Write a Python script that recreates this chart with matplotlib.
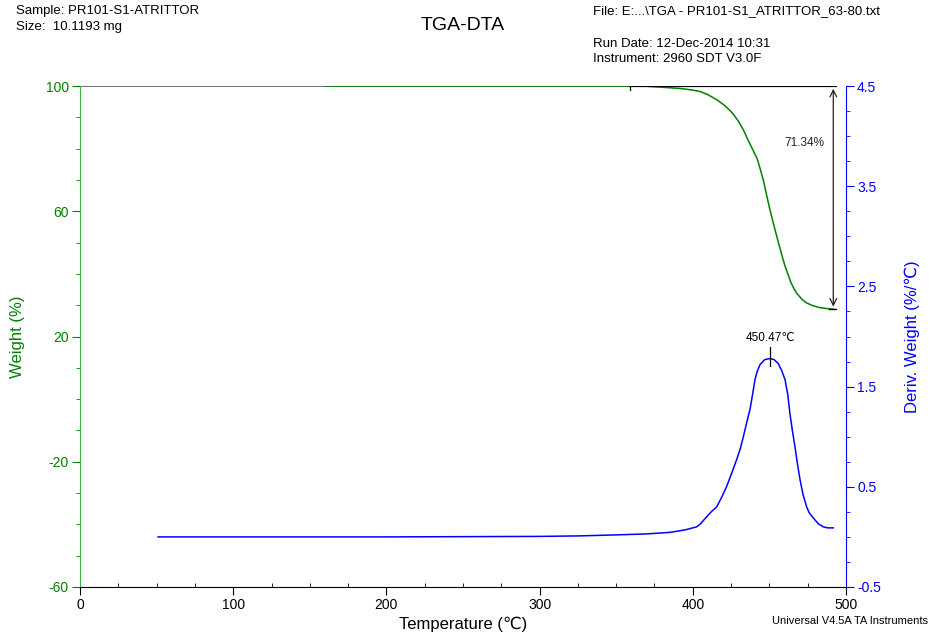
import matplotlib
matplotlib.use('Agg')
import matplotlib.pyplot as plt
from matplotlib.ticker import FixedLocator, MultipleLocator

plt.rcParams['font.family'] = ['Liberation Sans', 'DejaVu Sans']
plt.rcParams['axes.unicode_minus'] = False

# weight curve (%)
temp_w = [160, 250, 340, 367, 380, 392, 400, 405, 410, 416, 421, 426, 430, 433, 436, 439, 442,
          444, 446, 448, 450, 452, 454, 456, 458, 460, 462, 464, 466, 468, 471, 474, 478, 483, 488, 492]
weight = [100, 100, 100, 100, 99.6, 99.2, 98.7, 98.2, 97.2, 95.5, 93.7, 91.3, 88.6, 86.0, 82.8, 79.8, 76.8,
          73.5, 70.0, 65.6, 61.2, 57.3, 53.5, 49.8, 46.2, 42.8, 40.0, 37.3, 35.3, 33.7, 32.0, 30.8, 29.9, 29.2, 28.9, 28.7]

# derivative weight (%/C)
temp_d = [51, 200, 300, 326, 350, 370, 385, 395, 402.5, 405, 409, 412, 415.6, 419, 422, 425, 428.6, 431,
          433, 435, 437.3, 439, 440.6, 442, 443.9, 447, 450.4, 453, 455.8, 458, 460.2, 462, 463.4, 465,
          466.7, 468.3, 470, 472, 474.3, 476, 478.6, 482, 485.2, 488, 491.7]
deriv = [0.0, 0.0, 0.005, 0.01, 0.02, 0.03, 0.045, 0.07, 0.10, 0.13, 0.20, 0.25, 0.30, 0.40, 0.50, 0.62, 0.77, 0.88,
         1.0, 1.13, 1.27, 1.42, 1.57, 1.65, 1.72, 1.77, 1.78, 1.77, 1.73, 1.66, 1.57, 1.42, 1.23, 1.06,
         0.90, 0.73, 0.57, 0.42, 0.30, 0.24, 0.19, 0.13, 0.10, 0.09, 0.09]

weight_ticks = [-60, -20, 20, 60, 100]
deriv_ticks = [-0.5, 0.5, 1.5, 2.5, 3.5, 4.5]

step_start = 359
step_end = 491.7
step_pct = 71.34
peak_t = 450.47
peak_d = 1.78

green = '#008000'
blue = '#0000ff'

fig = plt.figure(figsize=(9.41, 6.34), dpi=100)
ax = fig.add_axes([80/941, 1-587/634, 766/941, 501/634])
ax2 = ax.twinx()

ax.plot([0, step_start], [100, 100], color='#555555', lw=1.2)
ax.plot(temp_w, weight, color=green, lw=1.1)
ax2.plot(temp_d, deriv, color=blue, lw=1.1)

# step change annotation
ax.plot([step_start, step_end + 2], [100, 100], color='black', lw=1.6)
ax.plot([step_start, step_start], [98.6, 101.2], color='black', lw=0.9)
ax.annotate('', xy=(step_end, 100 - step_pct), xytext=(step_end, 100),
            arrowprops=dict(arrowstyle='<->', color='#222222', lw=0.9, mutation_scale=12))
ax.plot([step_end - 3, step_end + 2], [100 - step_pct] * 2, color='black', lw=1.0)
ax.text(473, 81.8, '%.2f%%' % step_pct, ha='center', va='center', fontsize=8.5, color='#222222')

# peak annotation
ax2.plot([peak_t, peak_t], [peak_d - 0.07, peak_d + 0.12], color='black', lw=0.9)
ax2.text(peak_t, peak_d + 0.15, '%.2f℃' % peak_t, ha='center', va='bottom', fontsize=8.5)

ax.set_xlim(0, 500)
ax.set_ylim(-60, 100)
ax2.set_ylim(-0.5, 4.5)

ax.xaxis.set_major_locator(MultipleLocator(100))
ax.xaxis.set_minor_locator(MultipleLocator(25))
ax.yaxis.set_major_locator(FixedLocator(weight_ticks))
ax.yaxis.set_minor_locator(MultipleLocator(10))
ax2.yaxis.set_major_locator(FixedLocator(deriv_ticks))
ax2.yaxis.set_minor_locator(MultipleLocator(0.25))

for a in (ax, ax2):
    a.spines['top'].set_visible(False)
ax.spines['right'].set_visible(False)
ax2.spines['left'].set_visible(False)
ax2.spines['bottom'].set_visible(False)
ax.spines['left'].set_color('#3cb043')
ax2.spines['right'].set_color(blue)

ax.tick_params(axis='x', which='major', direction='out', length=6, labelsize=10, pad=2)
ax.tick_params(axis='x', which='minor', direction='in', length=3)
ax.tick_params(axis='y', which='major', length=6, color=green, labelcolor=green, labelsize=10, pad=2)
ax.tick_params(axis='y', which='minor', length=3, color=green)
ax2.tick_params(axis='y', which='major', length=6, color=blue, labelcolor=blue, labelsize=10, pad=2)
ax2.tick_params(axis='y', which='minor', length=3, color=blue)

ax.set_xlabel('Temperature (℃)', fontsize=12, labelpad=3)
ax.set_ylabel('Weight (%)', fontsize=12, color=green, labelpad=15)
ax2.set_ylabel('Deriv. Weight (%/℃)', fontsize=12, color=blue, labelpad=17)

fig.text(463/941, 1-25/634, 'TGA-DTA', ha='center', va='center', fontsize=14)
fig.text(16/941, 1-11/634, 'Sample: PR101-S1-ATRITTOR', ha='left', va='center', fontsize=9.5)
fig.text(16/941, 1-27/634, 'Size:  10.1193 mg', ha='left', va='center', fontsize=9.5)
fig.text(593/941, 1-11/634, 'File: E:...\\TGA - PR101-S1_ATRITTOR_63-80.txt', ha='left', va='center', fontsize=9.5)
fig.text(593/941, 1-44/634, 'Run Date: 12-Dec-2014 10:31', ha='left', va='center', fontsize=9.5)
fig.text(593/941, 1-59/634, 'Instrument: 2960 SDT V3.0F', ha='left', va='center', fontsize=9.5)
fig.text(928/941, 1-621/634, 'Universal V4.5A TA Instruments', ha='right', va='center', fontsize=8)

fig.savefig('out.png', dpi=100)
